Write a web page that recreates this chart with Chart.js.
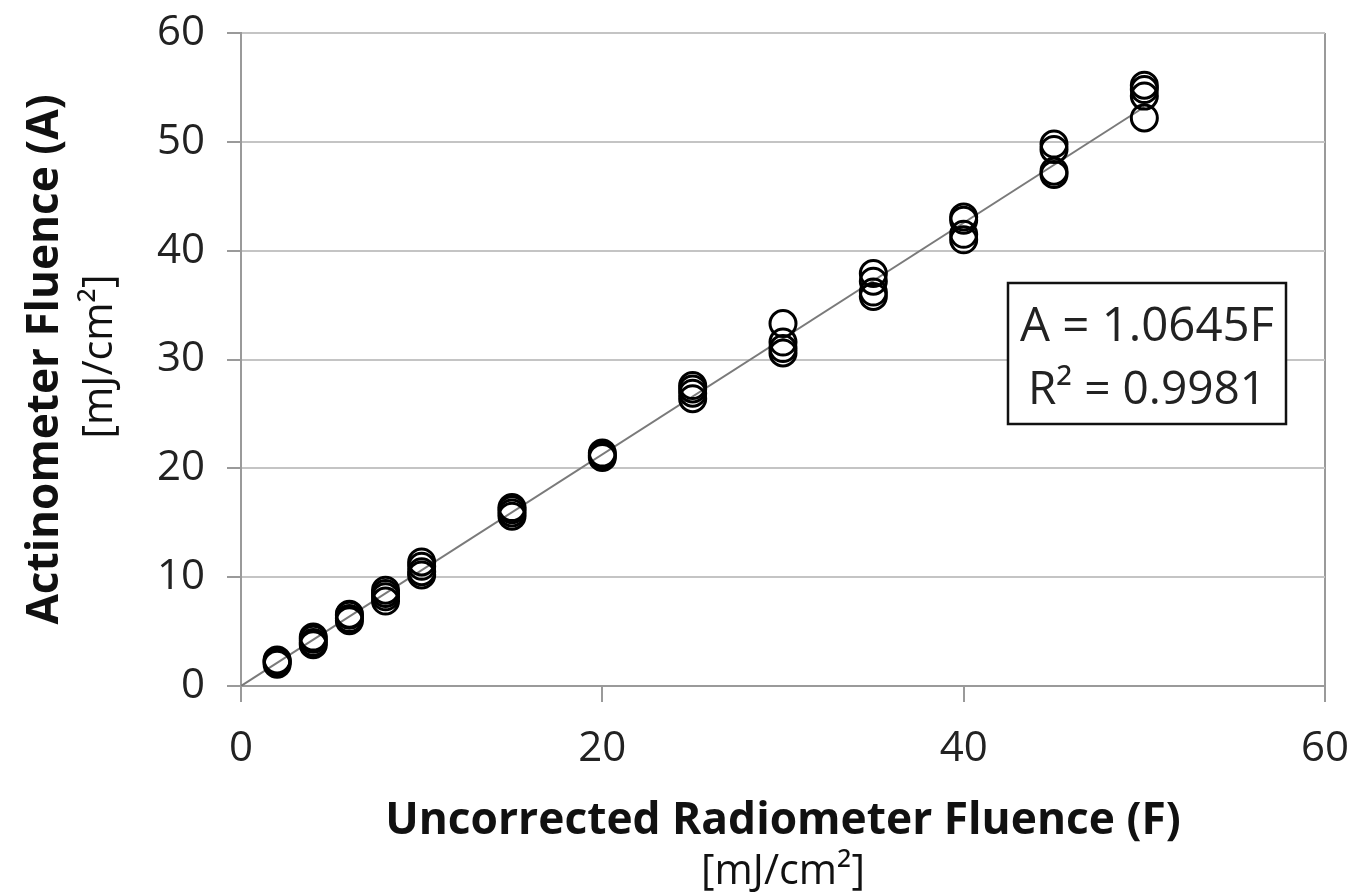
<!DOCTYPE html>
<html>
<head>
<meta charset="utf-8">
<script src="https://cdn.jsdelivr.net/npm/chart.js@4.4.0/dist/chart.umd.min.js"></script>
<style>
  html, body { margin: 0; padding: 0; background: #fff; }
  #wrap { width: 1356px; height: 896px; }
</style>
</head>
<body>
<div id="wrap"><canvas id="chart" width="1356" height="896"></canvas></div>
<script>
// radiometer fluence setpoints and measured actinometer fluence (mJ/cm2)
const fluenceF = [
  2, 2, 2, 2,
  4, 4, 4, 4,
  6, 6, 6, 6,
  8, 8, 8, 8,
  10, 10, 10, 10,
  15, 15, 15, 15,
  20, 20, 20,
  25, 25, 25, 25,
  30, 30, 30, 30,
  35, 35, 35, 35,
  40, 40, 40, 40,
  45, 45, 45, 45,
  50, 50, 50, 50
];
const fluenceA = [
  2.0, 2.2, 2.3, 2.4,
  3.8, 4.0, 4.3, 4.5,
  6.0, 6.2, 6.5, 6.6,
  7.8, 8.2, 8.5, 8.8,
  10.2, 10.5, 11.0, 11.4,
  15.6, 15.9, 16.2, 16.4,
  21.0, 21.2, 21.4,
  26.4, 26.9, 27.3, 27.6,
  30.6, 31.0, 31.6, 33.3,
  35.8, 36.2, 37.2, 37.9,
  41.0, 41.5, 42.8, 43.1,
  47.0, 47.3, 49.3, 49.8,
  52.2, 54.2, 54.8, 55.2
];
// fitted line A = 1.0645F
const trendX = [0, 50];
const trendY = [0, 53.2];
const xTicks = [0, 20, 40, 60];
const yTicks = [0, 10, 20, 30, 40, 50, 60];

const FONT = "'Open Sans', sans-serif";

// pick a font size so the text comes out at the given width
function fitText(ctx, text, x, y, weight, width) {
  ctx.font = weight + ' 40px ' + FONT;
  const size = 40 * width / ctx.measureText(text).width;
  ctx.font = weight + ' ' + size.toFixed(1) + 'px ' + FONT;
  ctx.fillText(text, x, y);
}

const labelsPlugin = {
  id: 'labels',
  afterDraw(chart) {
    const ctx = chart.ctx;
    const a = chart.chartArea;
    const cx = (a.left + a.right) / 2;
    const cy = (a.top + a.bottom) / 2;
    ctx.save();
    ctx.fillStyle = '#111';
    ctx.textAlign = 'center';
    ctx.textBaseline = 'alphabetic';

    // x axis title
    fitText(ctx, 'Uncorrected Radiometer Fluence (F)', cx, 834, 'bold', 796);
    fitText(ctx, '[mJ/cm\u00B2]', cx, 884, 'normal', 164);

    // y axis title (rotated)
    ctx.save();
    ctx.translate(58, cy);
    ctx.rotate(-Math.PI / 2);
    fitText(ctx, 'Actinometer Fluence (A)', 0, 0, 'bold', 530);
    ctx.restore();
    ctx.save();
    ctx.translate(112, cy - 3);
    ctx.rotate(-Math.PI / 2);
    fitText(ctx, '[mJ/cm\u00B2]', 0, 0, 'normal', 164);
    ctx.restore();

    // equation box
    const bx = 1008, by = 283, bw = 278, bh = 141;
    ctx.fillStyle = '#fff';
    ctx.fillRect(bx, by, bw, bh);
    ctx.strokeStyle = '#111';
    ctx.lineWidth = 2.5;
    ctx.strokeRect(bx, by, bw, bh);
    ctx.fillStyle = '#222';
    fitText(ctx, 'A = 1.0645F', bx + bw / 2, by + 58, 'normal', 254);
    fitText(ctx, 'R\u00B2 = 0.9981', bx + bw / 2, by + 121, 'normal', 238);
    ctx.restore();
  }
};

new Chart(document.getElementById('chart'), {
  type: 'scatter',
  data: {
    datasets: [
      {
        label: 'Measured',
        data: fluenceF.map((f, i) => ({ x: f, y: fluenceA[i] })),
        showLine: false,
        pointRadius: 13,
        pointBorderWidth: 3,
        pointBorderColor: '#000',
        pointBackgroundColor: 'rgba(0,0,0,0)',
        order: 1
      },
      {
        label: 'Trend',
        type: 'line',
        data: trendX.map((f, i) => ({ x: f, y: trendY[i] })),
        borderColor: '#7a7a7a',
        borderWidth: 2,
        pointRadius: 0,
        fill: false,
        order: 2
      }
    ]
  },
  options: {
    responsive: false,
    animation: false,
    layout: { padding: { left: 0, top: 33, right: 31, bottom: 0 } },
    plugins: {
      legend: { display: false },
      tooltip: { enabled: false }
    },
    scales: {
      x: {
        type: 'linear',
        min: 0,
        max: 60,
        afterBuildTicks: s => { s.ticks = xTicks.map(v => ({ value: v })); },
        afterFit: s => { s.height = 210; s.paddingLeft = 0; s.paddingRight = 0; },
        ticks: { font: { family: FONT, size: 42 }, color: '#222', padding: 22 },
        grid: {
          color: c => (c.tick && c.tick.value === 60) ? '#9a9a9a' : 'rgba(0,0,0,0)',
          lineWidth: 2,
          tickColor: '#9a9a9a',
          tickLength: 16
        },
        border: { color: '#9a9a9a', width: 2 }
      },
      y: {
        type: 'linear',
        min: 0,
        max: 60,
        afterBuildTicks: s => { s.ticks = yTicks.map(v => ({ value: v })); },
        afterFit: s => { s.width = 241; s.paddingTop = 0; s.paddingBottom = 0; },
        ticks: { font: { family: FONT, size: 42 }, color: '#222', padding: 22 },
        grid: {
          color: '#c4c4c4',
          lineWidth: 2,
          tickColor: '#9a9a9a',
          tickLength: 14
        },
        border: { color: '#9a9a9a', width: 2 }
      }
    }
  },
  plugins: [labelsPlugin]
});
</script>
</body>
</html>
